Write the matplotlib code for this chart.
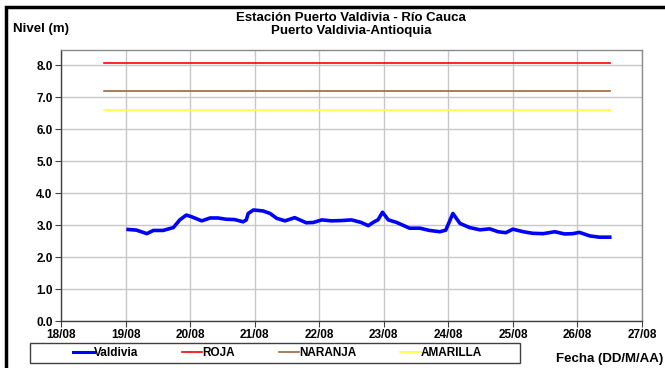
import matplotlib.pyplot as plt
from matplotlib.patches import Rectangle

plt.rcParams['font.family'] = ['Liberation Sans', 'DejaVu Sans']

# Nivel de la estación (día de agosto, nivel en m)
dias = [19.04, 19.17, 19.33, 19.43, 19.58, 19.74, 19.84, 19.94, 20.02, 20.18,
        20.31, 20.43, 20.56, 20.69, 20.82, 20.87, 20.90, 20.98, 21.13, 21.24,
        21.34, 21.47, 21.62, 21.80, 21.91, 22.04, 22.19, 22.35, 22.50, 22.65,
        22.76, 22.85, 22.91, 22.98, 23.07, 23.20, 23.40, 23.56, 23.71, 23.87,
        23.96, 24.07, 24.18, 24.33, 24.49, 24.64, 24.77, 24.89, 25.00, 25.16,
        25.31, 25.47, 25.65, 25.80, 25.93, 26.03, 26.19, 26.34, 26.50]
nivel = [2.86, 2.84, 2.73, 2.83, 2.83, 2.92, 3.16, 3.31, 3.26, 3.13,
         3.22, 3.22, 3.18, 3.17, 3.10, 3.16, 3.36, 3.47, 3.44, 3.36,
         3.21, 3.13, 3.23, 3.07, 3.08, 3.16, 3.13, 3.14, 3.16, 3.08,
         2.98, 3.10, 3.16, 3.40, 3.16, 3.08, 2.90, 2.90, 2.83, 2.79,
         2.84, 3.36, 3.05, 2.92, 2.85, 2.88, 2.79, 2.76, 2.87, 2.79,
         2.74, 2.73, 2.79, 2.72, 2.73, 2.77, 2.66, 2.62, 2.62]

# Umbrales de alerta
umbral_nombres = ['ROJA', 'NARANJA', 'AMARILLA']
umbral_niveles = [8.05, 7.2, 6.6]
umbral_colores = ['#ff0000', '#a0663c', '#ffff33']
umbral_inicio = 18.67
umbral_fin = 26.51

x_ticks = list(range(18, 28))
x_labels = [f'{d}/08' for d in x_ticks]
y_ticks = list(range(0, 9))

fig = plt.figure(figsize=(6.65, 3.68), dpi=100)
ax = fig.add_axes([61/665, 1 - 321/368, 581/665, 271/368])

l_valdivia, = ax.plot(dias, nivel, color='#0000ff', lw=2.6, label='Valdivia', zorder=5)
handles = [l_valdivia]
for nombre, niv, col in zip(umbral_nombres, umbral_niveles, umbral_colores):
    h, = ax.plot([umbral_inicio, umbral_fin], [niv, niv], color=col, lw=1.2, label=nombre)
    handles.append(h)

ax.set_xlim(18, 27)
ax.set_ylim(0, 8.47)
ax.set_xticks(x_ticks)
ax.set_xticklabels(x_labels, fontsize=8.5, fontweight='bold')
ax.set_yticks(y_ticks)
ax.set_yticklabels([f'{v:.1f}' for v in y_ticks], fontsize=8.5, fontweight='bold')
ax.tick_params(length=4, width=0.8, color='#404040', pad=2)
ax.grid(True, color='#c8c8c8', lw=1)
ax.set_axisbelow(True)
for s in ['left', 'bottom']:
    ax.spines[s].set_color('#404040')
for s in ['top', 'right']:
    ax.spines[s].set_color('#8c8c8c')
for s in ax.spines.values():
    s.set_linewidth(1)

fig.text(351/665, 1 - 18/368, 'Estación Puerto Valdivia - Río Cauca', ha='center', va='center',
         fontsize=9.5, fontweight='bold')
fig.text(351/665, 1 - 31/368, 'Puerto Valdivia-Antioquia', ha='center', va='center',
         fontsize=9.5, fontweight='bold')
fig.text(13/665, 1 - 29/368, 'Nivel (m)', ha='left', va='center', fontsize=9.5, fontweight='bold')
fig.text(663/665, 1 - 359/368, 'Fecha (DD/M/AA)', ha='right', va='center', fontsize=9.5,
         fontweight='bold')

# caja de la leyenda
fig.patches.append(Rectangle((30/665, 1 - 363/368), 490/665, 20/368, transform=fig.transFigure,
                             fill=True, facecolor='white', edgecolor='#404040', lw=1))
leg = fig.legend(handles=handles, loc='center left', ncol=4, frameon=False,
                 bbox_to_anchor=(73/665, 1 - 353/368), borderaxespad=0, borderpad=0,
                 handlelength=1.75, handletextpad=0, columnspacing=3.7,
                 prop={'size': 8.5, 'weight': 'bold'})
for h in leg.get_lines():
    h.set_linewidth(1.2)
leg.get_lines()[0].set_linewidth(2.2)

fig.patches.append(Rectangle((6/665, -0.05), 1.2, 1 - 7/368 + 0.05, transform=fig.transFigure,
                             fill=False, edgecolor='black', lw=2.5))

fig.savefig('out.png', dpi=100)
